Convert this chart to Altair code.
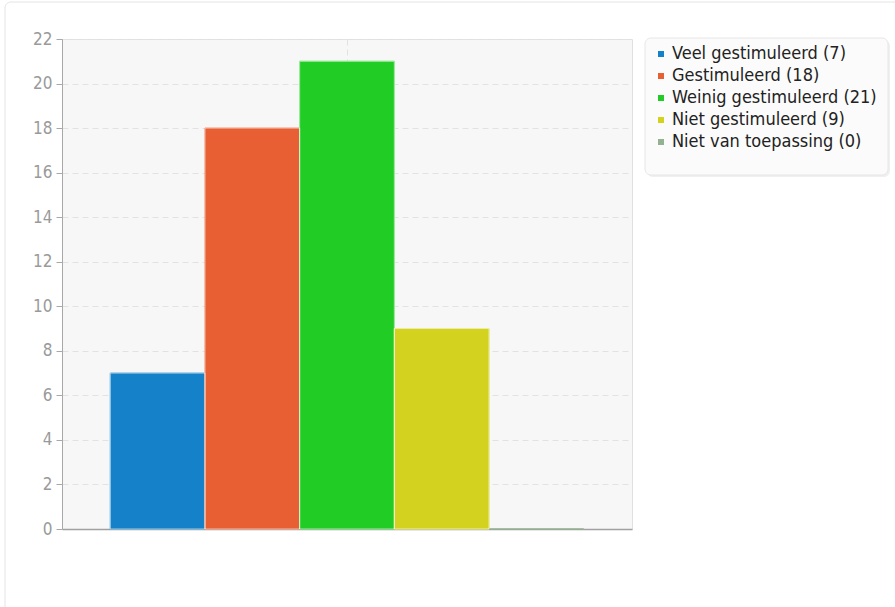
import altair as alt
import pandas as pd

# Survey answers and their counts
categories = [
    "Veel gestimuleerd",
    "Gestimuleerd",
    "Weinig gestimuleerd",
    "Niet gestimuleerd",
    "Niet van toepassing",
]
counts = [7, 18, 21, 9, 0]
colors = ["#1481c9", "#e75f32", "#21cd24", "#d3d31f", "#92b292"]
y_ticks = list(range(0, 23, 2))

labels = [f"{c} ({n})" for c, n in zip(categories, counts)]
df = pd.DataFrame({"group": ["all"] * len(categories), "label": labels, "count": counts})

W, H = 570, 490
FONT = "DejaVu Sans Condensed"

color_scale = alt.Scale(domain=labels, range=colors)

# outer card outline
card = alt.Chart(pd.DataFrame({"k": [0]})).mark_rect(
    fill=None, stroke="#e4e4e4", strokeWidth=1, cornerRadius=6
).encode(x=alt.value(-57), x2=alt.value(900), y=alt.value(-37), y2=alt.value(620))

# legend box and its soft shadow
legend_shadow = alt.Chart(pd.DataFrame({"k": [0]})).mark_rect(
    fill="#000000", opacity=0.06, cornerRadius=6
).encode(x=alt.value(585), x2=alt.value(828), y=alt.value(1), y2=alt.value(138))
legend_box = alt.Chart(pd.DataFrame({"k": [0]})).mark_rect(
    fill="#fbfbfb", stroke="#e6e6e6", strokeWidth=1, cornerRadius=6
).encode(x=alt.value(583), x2=alt.value(826), y=alt.value(-1), y2=alt.value(136))

base = alt.Chart(df)

x_enc = alt.X(
    "group:N",
    title=None,
    scale=alt.Scale(paddingInner=0, paddingOuter=0),
    axis=alt.Axis(
        labels=False, ticks=False, grid=True, gridDash=[6, 4], gridColor="#e2e2e2",
        domainColor="#a0a0a0", domainWidth=1.5,
    ),
)
y_enc = alt.Y(
    "count:Q",
    title=None,
    scale=alt.Scale(domain=[0, 22], nice=False),
    axis=alt.Axis(
        values=y_ticks, grid=True, gridDash=[6, 4], gridColor="#e2e2e2",
        domainColor="#a8a8a8", tickColor="#a8a8a8", tickSize=6, labelPadding=4,
        labelColor="#9a9a9a", labelFontSize=17, labelFont=FONT,
    ),
)
xo_enc = alt.XOffset(
    "label:N", sort=labels, scale=alt.Scale(paddingInner=0, paddingOuter=0.51)
)

bars = base.mark_bar(strokeWidth=1).encode(
    x=x_enc,
    xOffset=xo_enc,
    y=y_enc,
    color=alt.Color(
        "label:N",
        sort=labels,
        scale=color_scale,
        legend=alt.Legend(
            title=None, orient="none", legendX=590, legendY=6,
            symbolType="square", symbolSize=36, symbolStrokeWidth=0,
            labelFontSize=18, labelFont=FONT, labelColor="#222222",
            labelLimit=0, rowPadding=4, labelOffset=2, padding=0,
        ),
    ),
    stroke=alt.Stroke("label:N", sort=labels, scale=color_scale, legend=None),
)

# light separators between neighbouring bars
edges = base.transform_filter("datum.count > 0").mark_bar(
    fillOpacity=0, stroke="white", strokeOpacity=0.6, strokeWidth=1
).encode(x=x_enc, xOffset=xo_enc, y=y_enc)

chart = alt.layer(card, bars, edges, legend_shadow, legend_box).properties(
    width=W, height=H, autosize=alt.AutoSizeParams(type="none"),
    padding={"left": 62, "top": 39, "right": 263, "bottom": 78},
).configure_view(stroke="#e0e0e0", strokeWidth=1, fill="#f7f7f7")

chart.save("out.html", embed_options={"renderer": "svg", "actions": False})
